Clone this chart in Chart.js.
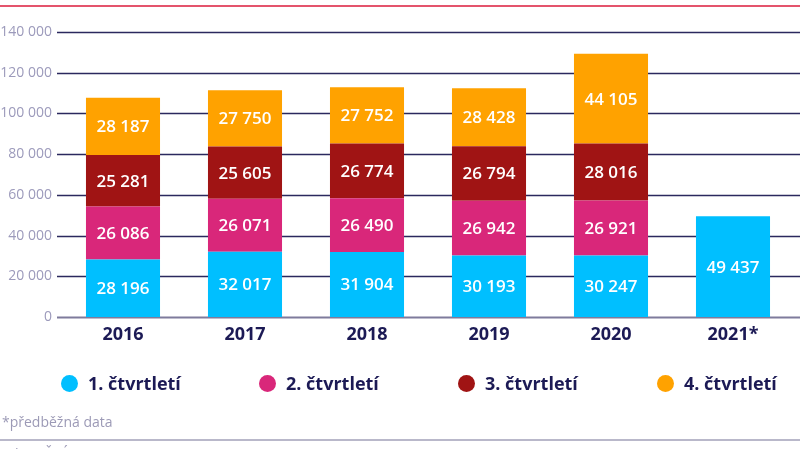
<!DOCTYPE html>
<html lang="cs">
<head>
<meta charset="utf-8">
<script src="https://cdn.jsdelivr.net/npm/chart.js@4/dist/chart.umd.min.js"></script>
<style>
  html, body { margin: 0; padding: 0; background: #fff; }
  #wrap { position: relative; width: 800px; height: 449px; overflow: hidden; font-family: "Open Sans", sans-serif; }
  #topline { position: absolute; left: 0; top: 5px; width: 800px; height: 1.5px; background: #e4546c; }
  #bottomline { position: absolute; left: 0; top: 439px; width: 800px; height: 2px; background: #b9b8ca; }
  #chart { position: absolute; left: 0; top: 0; }
  .leg { position: absolute; top: 372px; height: 22px; display: flex; align-items: center; font-weight: 700; font-size: 18px; color: #1c1a55; }
  .leg i { display: inline-block; width: 17px; height: 17px; border-radius: 50%; margin-right: 10px; }
  #note { position: absolute; left: 2px; top: 412px; font-size: 14px; color: #9c9ab6; }
  #src { position: absolute; left: 2px; top: 444px; font-size: 14px; color: #9c9ab6; }
</style>
</head>
<body>
<div id="wrap">
  <canvas id="chart" width="800" height="449"></canvas>
  <div id="topline"></div>
  <div id="legend"></div>
  <div id="note">*předběžná data</div>
  <div id="bottomline"></div>
  <div id="src">Zdroj: ČSÚ</div>
</div>
<script>
// data
var years = ['2016', '2017', '2018', '2019', '2020', '2021*'];
var q1 = [28196, 32017, 31904, 30193, 30247, 49437];
var q2 = [26086, 26071, 26490, 26942, 26921, null];
var q3 = [25281, 25605, 26774, 26794, 28016, null];
var q4 = [28187, 27750, 27752, 28428, 44105, null];
var seriesNames = ['1. čtvrtletí', '2. čtvrtletí', '3. čtvrtletí', '4. čtvrtletí'];
var seriesColors = ['#00bfff', '#d9277a', '#a01414', '#ffa200'];
var yTicks = [0, 20000, 40000, 60000, 80000, 100000, 120000, 140000];

function fmt(v) {
    return String(v).replace(/\B(?=(\d{3})+(?!\d))/g, ' ');
}

// gridlines across the full width, zero line a bit lighter
var gridPlugin = {
    id: 'fullGrid',
    beforeDatasetsDraw: function(chart) {
        var ctx = chart.ctx;
        var y = chart.scales.y;
        ctx.save();
        yTicks.forEach(function(t) {
            var py = Math.round(y.getPixelForValue(t)) + 0.5;
            ctx.beginPath();
            ctx.strokeStyle = t === 0 ? '#7e7b9c' : '#2b295e';
            ctx.lineWidth = t === 0 ? 2 : 1.3;
            ctx.moveTo(57, py);
            ctx.lineTo(chart.width, py);
            ctx.stroke();
        });
        ctx.restore();
    }
};

// white values in the middle of each segment
var labelPlugin = {
    id: 'segLabels',
    afterDatasetsDraw: function(chart) {
        var ctx = chart.ctx;
        ctx.save();
        ctx.fillStyle = '#ffffff';
        ctx.font = '600 17px "Open Sans"';
        ctx.textAlign = 'center';
        ctx.textBaseline = 'middle';
        chart.data.datasets.forEach(function(ds, i) {
            var meta = chart.getDatasetMeta(i);
            meta.data.forEach(function(bar, j) {
                var v = ds.data[j];
                if (v == null) return;
                ctx.fillText(fmt(v), bar.x, (bar.y + bar.base) / 2 + 1);
            });
        });
        ctx.restore();
    }
};

var datasets = [q1, q2, q3, q4].map(function(d, i) {
    return {
        label: seriesNames[i],
        data: d,
        backgroundColor: seriesColors[i],
        borderWidth: 0,
        categoryPercentage: 1,
        barPercentage: 0.607
    };
});

var ctx = document.getElementById('chart').getContext('2d');
var chart = new Chart(ctx, {
    type: 'bar',
    data: { labels: years, datasets: datasets },
    plugins: [gridPlugin, labelPlugin],
    options: {
        responsive: false,
        animation: false,
        layout: { padding: { top: 32, right: 6, left: 0, bottom: 0 } },
        plugins: { legend: { display: false }, tooltip: { enabled: false } },
        scales: {
            x: {
                stacked: true,
                grid: { display: false, drawTicks: false },
                border: { display: false },
                ticks: {
                    padding: 7,
                    color: '#1c1a55',
                    font: { family: 'Open Sans', size: 18, weight: '700' }
                },
                afterFit: function(s) { s.height = 132; }
            },
            y: {
                stacked: true,
                min: 0,
                max: 140000,
                afterBuildTicks: function(s) {
                    s.ticks = yTicks.map(function(v) { return { value: v }; });
                },
                grid: { display: false, drawTicks: false },
                border: { display: false },
                ticks: {
                    padding: 10,
                    color: '#9c9abb',
                    font: { family: 'Open Sans', size: 14 },
                    callback: function(v) { return fmt(v); }
                },
                afterFit: function(s) { s.width = 62; }
            }
        }
    }
});

// legend built from the series names and colours
var legendLeft = [61, 259, 458, 657];
var legend = document.getElementById('legend');
seriesNames.forEach(function(name, i) {
    var el = document.createElement('div');
    el.className = 'leg';
    el.style.left = legendLeft[i] + 'px';
    el.innerHTML = '<i style="background:' + seriesColors[i] + '"></i>' + name;
    legend.appendChild(el);
});
</script>
</body>
</html>
